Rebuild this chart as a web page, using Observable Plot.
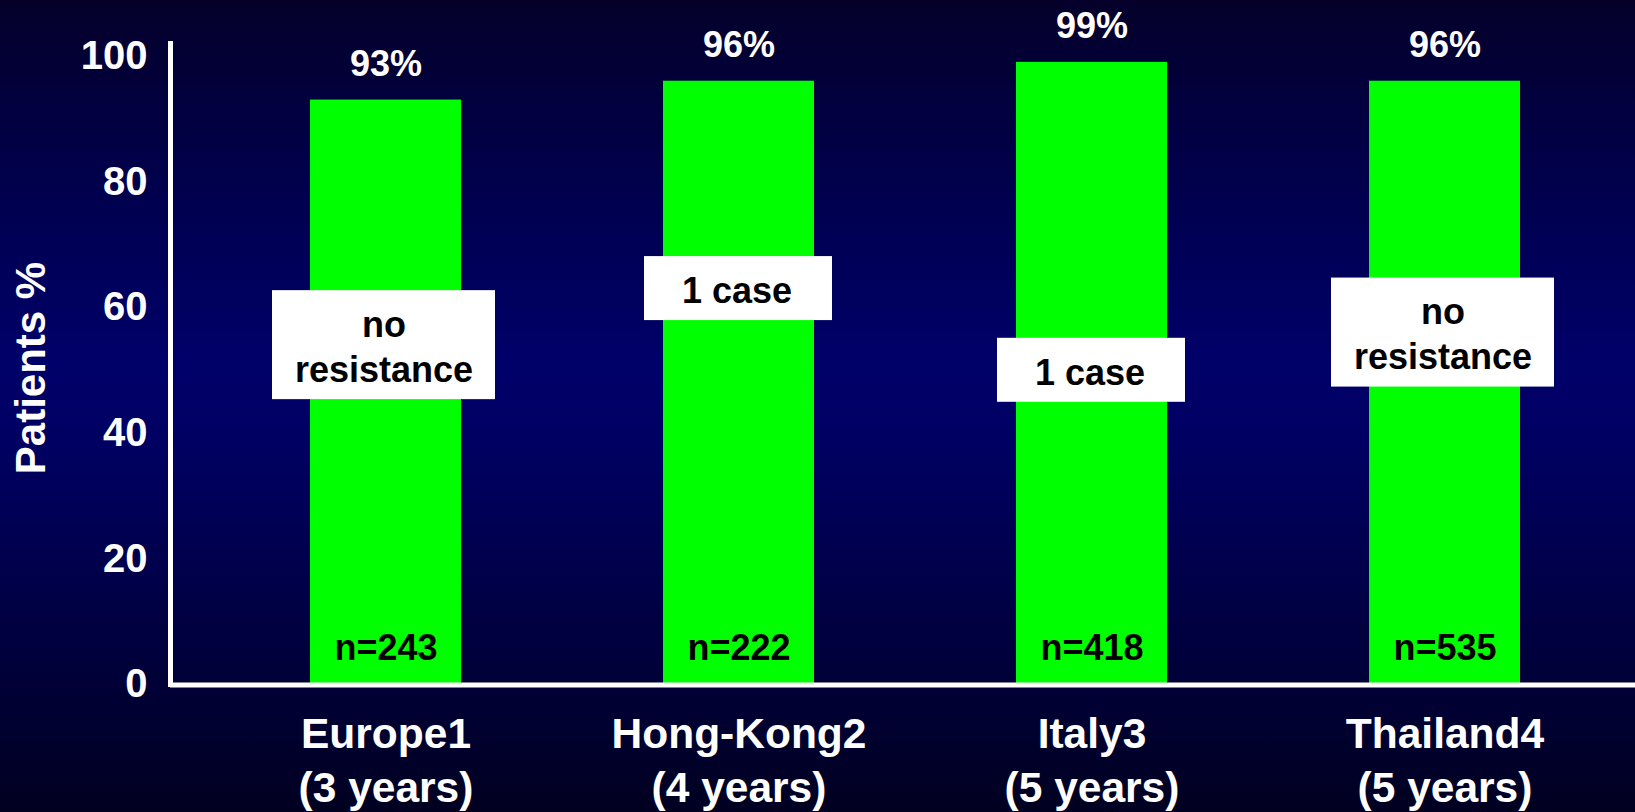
<!DOCTYPE html>
<html>
<head>
<meta charset="utf-8">
<script src="https://cdn.jsdelivr.net/npm/d3@7"></script>
<script src="https://cdn.jsdelivr.net/npm/@observablehq/plot@0.6"></script>
<style>
  html, body { margin: 0; padding: 0; background: #000040; }
  #chart svg { display: block; }
</style>
</head>
<body>
<div id="chart"></div>
<script>
// ---- data ----
const regions = ["Europe1", "Hong-Kong2", "Italy3", "Thailand4"];
const periods = ["(3 years)", "(4 years)", "(5 years)", "(5 years)"];
const responsePct = [93, 96, 99, 96];
const sampleSizes = [243, 222, 418, 535];
const resistanceNotes = ["no\nresistance", "1 case", "1 case", "no\nresistance"];
const noteLevel = [54, 63, 50, 56];
const yTicks = [0, 20, 40, 60, 80, 100];

const rows = regions.map((r, i) => ({
  region: r,
  period: periods[i],
  value: responsePct[i],
  n: sampleSizes[i],
  note: resistanceNotes[i],
  noteY: noteLevel[i],
  lines: resistanceNotes[i].split("\n").length
}));
const twoLine = rows.filter(d => d.lines === 2);
const oneLine = rows.filter(d => d.lines === 1);

const font = "'Liberation Sans', Arial, sans-serif";

const chart = Plot.plot({
  width: 1635,
  height: 812,
  marginLeft: 170,
  marginRight: 0,
  marginTop: 43,
  marginBottom: 128,
  style: {
    background: "linear-gradient(to bottom, #05002a 0%, #000050 25%, #00006a 45%, #000062 55%, #000040 78%, #010021 100%)",
    fontFamily: font,
    color: "white"
  },
  x: {domain: regions, paddingInner: 0.573, paddingOuter: 0.357, align: 0.55, axis: null},
  y: {domain: [0, 102], axis: null},
  marks: [
    Plot.barY(rows, {x: "region", y: "value", fill: "#00ff00"}),
    Plot.barY(twoLine, {x: "region", y1: "noteY", y2: "noteY", fill: "white",
      insetTop: -54.5, insetBottom: -54.5, insetLeft: -38, insetRight: -34}),
    Plot.barY(oneLine, {x: "region", y1: "noteY", y2: "noteY", fill: "white",
      insetTop: -32, insetBottom: -32, insetLeft: -19, insetRight: -18}),
    Plot.text(rows, {x: "region", y: "noteY", text: "note", lineAnchor: "middle", lineHeight: 1.25,
      dx: -2, fontSize: 36, fontWeight: "bold", fill: "black"}),
    Plot.text(rows, {x: "region", y: "value", text: d => d.value + "%", dy: -24, lineAnchor: "bottom",
      fontSize: 36, fontWeight: "bold", fill: "white"}),
    Plot.text(rows, {x: "region", frameAnchor: "bottom", text: d => "n=" + d.n, dy: -25, lineAnchor: "bottom",
      fontSize: 36, fontWeight: "bold", fill: "black"}),
    Plot.axisY({ticks: yTicks, tickSize: 0, tickPadding: 23, fontSize: 40, fontWeight: "bold",
      fill: "white", label: null}),
    Plot.axisX({tickSize: 0, tickPadding: 25, fontSize: 42.5, fontWeight: "bold", fill: "white",
      lineHeight: 1.27, label: null,
      tickFormat: r => r + "\n" + periods[regions.indexOf(r)]}),
    Plot.text(["Patients %"], {frameAnchor: "left", text: d => d, rotate: -90, dx: -139, dy: 4,
      textAnchor: "middle", lineAnchor: "middle",
      fontSize: 42, fontWeight: "bold", fill: "white"}),
    Plot.ruleY([0], {stroke: "white", strokeWidth: 5, dy: 0.5}),
    Plot.frame({anchor: "left", stroke: "white", strokeWidth: 5})
  ]
});
document.getElementById("chart").appendChild(chart);
</script>
</body>
</html>
